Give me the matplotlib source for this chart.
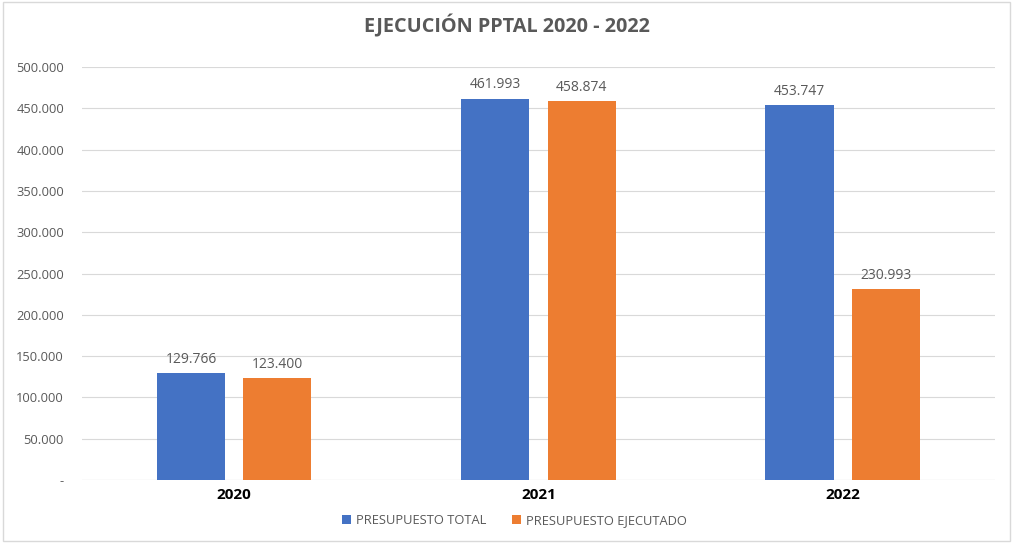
import matplotlib
matplotlib.use("Agg")
import matplotlib.pyplot as plt
import numpy as np
from matplotlib.patches import Rectangle
from matplotlib.ticker import FuncFormatter

years = ["2020", "2021", "2022"]
total = [129766, 461993, 453747]
ejecutado = [123400, 458874, 230993]
series_names = ["PRESUPUESTO TOTAL", "PRESUPUESTO EJECUTADO"]
title = "EJECUCIÓN PPTAL 2020 - 2022"

blue = "#4472C4"
orange = "#ED7D31"
gray = "#595959"

plt.rcParams['font.family'] = ['Open Sans', 'DejaVu Sans']

fig = plt.figure(figsize=(10.13, 5.44), dpi=100)
ax = fig.add_axes([0.081, 0.1176, 0.901, 0.759])

x = np.arange(len(years))
w = 0.224
off = 0.142
ax.bar(x - off, total, w, color=blue, label=series_names[0], zorder=3)
ax.bar(x + off, ejecutado, w, color=orange, label=series_names[1], zorder=3)

def fmt(v):
    return f"{int(round(v)):,}".replace(",", ".")

for xi, v in zip(x - off, total):
    ax.text(xi, v + 7500, fmt(v), ha='center', va='bottom', fontsize=10, color=gray)
for xi, v in zip(x + off, ejecutado):
    ax.text(xi, v + 7500, fmt(v), ha='center', va='bottom', fontsize=10, color=gray)

ax.set_xlim(-0.5, 2.5)
ax.set_ylim(0, 500000)
ax.set_yticks(np.arange(0, 500001, 50000))
ax.yaxis.set_major_formatter(FuncFormatter(lambda v, p: "-" if v == 0 else fmt(v)))
ax.grid(axis='y', color='#D9D9D9', linewidth=0.8, zorder=0)
for s in ax.spines.values():
    s.set_visible(False)
ax.tick_params(axis='y', length=0, labelsize=9.3, labelcolor=gray, pad=13)
ax.set_xticks(x)
ax.set_xticklabels(years, fontsize=11, fontweight='bold', color='black')
ax.tick_params(axis='x', length=0, pad=6)
ax.axhline(0, color='#D9D9D9', linewidth=0.8, zorder=2)

fig.text(0.5, 0.953, title, ha='center', va='center', fontsize=14.3,
         fontweight='bold', color=gray)

leg = fig.legend(loc='center', bbox_to_anchor=(0.508, 0.043), ncol=2, frameon=False,
                 fontsize=9.3, handlelength=0.7, handleheight=0.7, columnspacing=2.0,
                 handletextpad=0.4)
for t in leg.get_texts():
    t.set_color(gray)

fig.patches.append(Rectangle((0.003, 0.006), 0.994, 0.99, transform=fig.transFigure,
                             fill=False, edgecolor='#D9D9D9', linewidth=1))

fig.savefig("out.png", dpi=100)
